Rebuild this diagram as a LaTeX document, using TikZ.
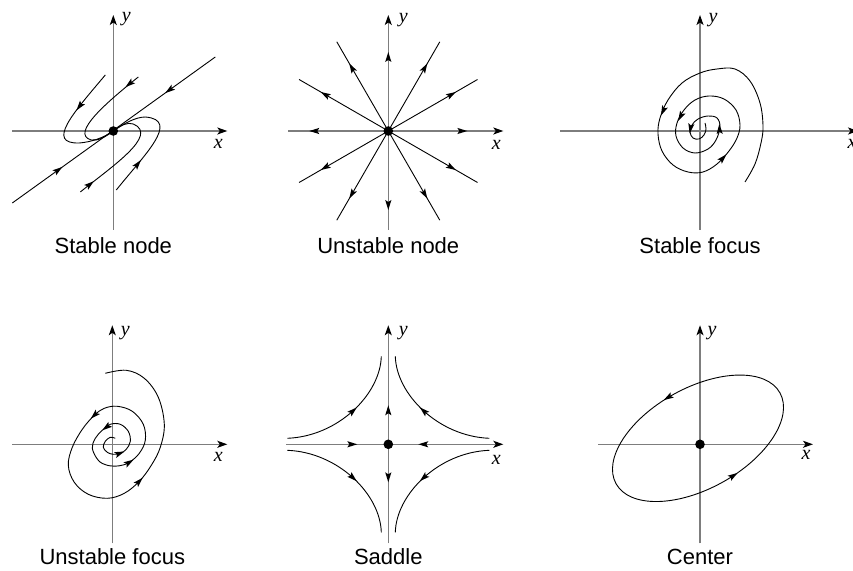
\documentclass[tikz,border=0pt]{standalone}
\usepackage{fontspec}
\setmainfont{Liberation Sans}
\newfontfamily\axfont{Liberation Serif}
\usetikzlibrary{arrows.meta}
\definecolor{axgray}{RGB}{125,125,125}
\newcommand\arrtip[2]{\fill[shift={#1},rotate=#2] (5,0) -- (-5,3.1) -- (-3,0) -- (-5,-3.1) -- cycle;}
\begin{document}
\begin{tikzpicture}[x=1pt,y=1pt,
  axis/.style={draw=axgray, line width=1.2pt, -{Stealth[length=10pt,width=7pt,inset=2.5pt,color=black]}},
  curve/.style={draw=black, line width=0.9pt},
  lbl/.style={font=\fontsize{22}{24}\selectfont, anchor=base, inner sep=0pt},
  axl/.style={font=\fontsize{20}{22}\selectfont\axfont\itshape, inner sep=0pt}
]
\useasboundingbox (0,0) rectangle (853,570);

% ---------- Stable node ----------
\begin{scope}[shift={(113.3,439)}]
  \draw[axis] (-101,0) -- (114,0);
  \draw[axis] (0,-99) -- (0,116);
  \node[axl] (x1) at (105,-13) {x};
  \node[axl] (y1) at (13,112) {y};
  \draw[curve] (-101,-72) -- (102,74);
  \draw[curve] (-8,56) .. controls (-40,18) and (-68,-13) .. (-34,-12) .. controls (-22,-11) and (-10,-7) .. (0,0);
  \draw[curve] (25,54) .. controls (-5,30) and (-44,-3) .. (-22,-9) .. controls (-15,-10) and (-8,-6) .. (0,0);
  \draw[curve] (3,-59) .. controls (30,-25) and (68,11) .. (32,14) .. controls (22,14) and (10,7) .. (0,0);
  \draw[curve] (-33,-61) .. controls (-2,-36) and (46,-4) .. (20,7) .. controls (14,9) and (8,6) .. (0,0);
  \arrtip{(-55,-38.9)}{36}
  \arrtip{(56,40.9)}{216}
  \arrtip{(-33.8,24.6)}{233}
  \arrtip{(16,47)}{219}
  \arrtip{(24.5,-33)}{51}
  \arrtip{(-23.3,-53.3)}{39}
  \fill (0,0) circle (4.8);
  \node[lbl] (l1) at (0,-123) {Stable node};
\end{scope}

% ---------- Unstable node ----------
\begin{scope}[shift={(388.3,439)}]
  \draw[axis] (-100,0) -- (115,0);
  \draw[axis] (0,-99) -- (0,116);
  \node[axl] (x2) at (108,-14) {x};
  \node[axl] (y2) at (15,111) {y};
  \foreach \a in {30,60,120,150,210,240,300,330}{
    \draw[curve] (0,0) -- (\a:103);
    \arrtip{(\a:73)}{\a}
  }
  \foreach \a in {0,90,180,270}{
    \arrtip{(\a:74)}{\a}
  }
  \fill (0,0) circle (4.8);
  \node[lbl] (l2) at (0,-123) {Unstable node};
\end{scope}

% ---------- Stable focus ----------
\begin{scope}[shift={(700,439)}]
  \draw[axis] (-140,0) -- (158,0);
  \draw[axis] (0,-99) -- (0,116);
  \node[axl] (x3) at (152,-13) {x};
  \node[axl] (y3) at (13,111) {y};
  \draw[curve] plot[smooth,tension=0.6] coordinates {
    (45,-51) (55,-33) (61,-12) (63,5) (60,28) (50,50) (35,62) (17,62) (0,58)
    (-18,48) (-32,31) (-40,13) (-42,-3) (-38,-20) (-27,-34) (-12,-41) (3,-41)
    (17,-33) (29,-20) (37,-7) (40,6) (36,21) (24,32) (9,35) (-5,31) (-16,21)
    (-23,8) (-24,-5) (-17,-17) (-5,-22) (8,-18) (16,-9) (20,4) (17,13) (8,15)
    (-2,12) (-8,6) (-10,-1) (-7,-7) (-1,-8) (4,-4) (6,2) (5,8)};
  \arrtip{(-37,20)}{246}
  \arrtip{(23,-27)}{47}
  \arrtip{(-19.5,14.5)}{242}
  \arrtip{(19.5,2)}{92}
  \arrtip{(-9.5,2.5)}{260}
  \node[lbl] (l3) at (0,-123) {Stable focus};
\end{scope}

% ---------- Unstable focus ----------
\begin{scope}[shift={(112.3,125.7)}]
  \draw[axis] (-100,0) -- (115,0);
  \draw[axis] (0,-99) -- (0,119);
  \node[axl] (x4) at (106,-13) {x};
  \node[axl] (y4) at (13,111) {y};
  \draw[curve] plot[smooth,tension=0.6] coordinates {
    (3,6) (-2,7) (-7,3) (-9,-3) (-5,-8) (1,-10) (8,-9) (14,-5) (18,3) (16,13)
    (8,20) (-2,20) (-10,14) (-17,6) (-20,-4) (-14,-16) (-5,-21) (7,-21.5)
    (17,-18) (27,-9) (33,4) (31,20) (20,33) (5,38) (-8,36) (-18,29) (-30,15)
    (-40,-3) (-44,-21) (-38,-38) (-24,-50) (-5,-54) (12,-49) (27,-37) (39,-21)
    (48,-3) (52,20) (46,47) (32,66) (14,74) (-7,71)};
  \arrtip{(7.5,-9)}{21}
  \arrtip{(-6,17)}{217}
  \arrtip{(17,-18)}{32}
  \arrtip{(-18,29)}{224}
  \arrtip{(27,-37)}{46}
  \node[lbl] (l4) at (0,-120.5) {Unstable focus};
\end{scope}

% ---------- Saddle ----------
\begin{scope}[shift={(388.3,125.7)}]
  \draw[axis] (-102,0) -- (115,0);
  \draw[axis] (0,-99) -- (0,119);
  \node[axl] (x5) at (108,-16) {x};
  \node[axl] (y5) at (15,111) {y};
  \draw[curve] (-101,6) .. controls (-50,8) and (-8,50) .. (-7,88);
  \draw[curve] (101,6) .. controls (50,8) and (8,50) .. (7,88);
  \draw[curve] (-101,-6) .. controls (-50,-8) and (-8,-50) .. (-7,-88);
  \draw[curve] (101,-6) .. controls (50,-8) and (8,-50) .. (7,-88);
  \arrtip{(-35.25,33.5)}{42}
  \arrtip{(35.25,33.5)}{138}
  \arrtip{(-35.25,-33.5)}{318}
  \arrtip{(35.25,-33.5)}{222}
  \arrtip{(-36,0)}{0}
  \arrtip{(35,0)}{180}
  \arrtip{(0,34)}{90}
  \arrtip{(0,-33)}{270}
  \fill (0,0) circle (4.8);
  \node[lbl] (l5) at (0,-120.5) {Saddle};
\end{scope}

% ---------- Center ----------
\begin{scope}[shift={(700,125.7)}]
  \draw[axis] (-102,0) -- (113,0);
  \draw[axis] (0,-99) -- (0,119);
  \node[axl] (x6) at (106,-11) {x};
  \node[axl] (y6) at (12,111) {y};
  \draw[curve, rotate around={29:(-2,6)}] (-2,6) ellipse [x radius=93.7, y radius=50.3];
  \arrtip{(-32,46.8)}{211}
  \arrtip{(33.5,-31.3)}{33}
  \fill (0,0) circle (4.8);
  \node[lbl] (l6) at (0,-120.5) {Center};
\end{scope}
\end{tikzpicture}
\end{document}
